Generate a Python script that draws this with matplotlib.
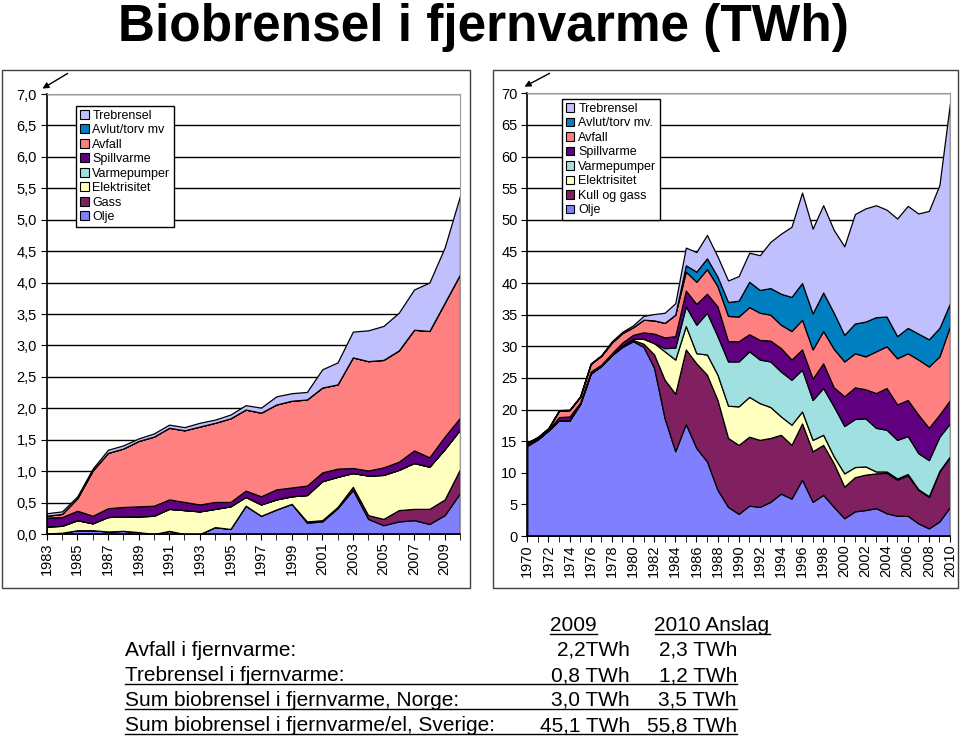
import matplotlib
matplotlib.use("Agg")
import matplotlib.pyplot as plt
from matplotlib.patches import Patch, Rectangle, FancyArrowPatch
from matplotlib.lines import Line2D

plt.rcParams['font.family'] = ['Liberation Sans', 'DejaVu Sans']

# ---- Norway (left panel), 1983-2010, TWh
years_no = list(range(1983, 2011))
olje_no = [0.01, 0.02, 0.06, 0.06, 0.04, 0.05, 0.03, 0.00, 0.05, 0.00, 0.00, 0.11, 0.08, 0.45,
           0.29, 0.39, 0.48, 0.18, 0.20, 0.41, 0.70, 0.24, 0.14, 0.20, 0.22, 0.16, 0.30, 0.65]
gass_no = [0, 0, 0, 0, 0, 0, 0, 0, 0, 0, 0, 0, 0, 0,
           0, 0, 0, 0.02, 0.02, 0.02, 0.05, 0.06, 0.10, 0.18, 0.18, 0.24, 0.25, 0.38]
el_no = [0.11, 0.11, 0.16, 0.11, 0.23, 0.23, 0.25, 0.29, 0.35, 0.38, 0.36, 0.29, 0.36, 0.14,
         0.18, 0.16, 0.12, 0.42, 0.62, 0.48, 0.22, 0.63, 0.70, 0.64, 0.73, 0.67, 0.80, 0.63]
vp_no = [0] * 28
spill_no = [0.14, 0.14, 0.15, 0.12, 0.14, 0.15, 0.16, 0.16, 0.15, 0.13, 0.11, 0.11, 0.07, 0.10,
            0.13, 0.16, 0.14, 0.15, 0.14, 0.13, 0.08, 0.08, 0.12, 0.13, 0.20, 0.15, 0.20, 0.19]
avfall_no = [0.03, 0.05, 0.20, 0.72, 0.88, 0.93, 1.04, 1.10, 1.14, 1.14, 1.24, 1.26, 1.33, 1.29,
             1.33, 1.35, 1.38, 1.37, 1.35, 1.34, 1.76, 1.74, 1.71, 1.77, 1.92, 2.01, 2.13, 2.28]
avlut_no = [0] * 28
tre_no = [0.04, 0.04, 0.03, 0.03, 0.05, 0.05, 0.04, 0.05, 0.05, 0.05, 0.06, 0.05, 0.06, 0.07,
          0.08, 0.13, 0.12, 0.12, 0.29, 0.35, 0.41, 0.49, 0.54, 0.60, 0.64, 0.77, 0.88, 1.25]

# ---- Sweden (right panel), 1970-2010, TWh
years_se = list(range(1970, 2011))
olje_se = [14.3, 15.3, 16.7, 18.3, 18.3, 20.9, 25.7, 26.9, 28.6, 29.9,
           30.8, 29.9, 26.6, 18.6, 13.4, 17.7, 13.9, 11.8, 7.3, 4.6,
           3.5, 4.8, 4.6, 5.4, 6.7, 5.9, 8.9, 5.4, 6.5, 4.6,
           2.8, 3.9, 4.1, 4.4, 3.6, 3.2, 3.2, 2.0, 1.2, 2.3, 4.6]
kull_se = [0, 0, 0, 0, 0, 0, 0, 0, 0, 0.1,
           0.2, 0.5, 2.1, 6.1, 9.1, 11.8, 13.4, 13.7, 14.2, 10.9,
           10.9, 10.9, 10.6, 10.1, 9.3, 8.5, 8.9, 8.0, 7.9, 6.9,
           5.0, 5.4, 5.6, 5.5, 6.4, 5.7, 6.4, 5.3, 5.0, 7.9, 7.9]
el_se = [0, 0, 0, 0, 0, 0, 0, 0, 0, 0.1,
         0.2, 0.8, 1.8, 4.5, 5.4, 3.7, 1.6, 3.2, 4.0, 5.1,
         6.1, 6.3, 5.8, 4.9, 2.9, 3.2, 1.9, 1.8, 1.6, 1.1,
         2.1, 1.6, 1.3, 0.3, 0.2, 0.2, 0.2, 0.1, 0.1, 0.1, 0.1]
vp_se = [0, 0, 0, 0, 0, 0, 0, 0, 0, 0,
         0, 0, 0, 0.5, 1.9, 3.1, 4.5, 6.6, 6.1, 7.0,
         7.1, 7.2, 6.9, 7.2, 7.1, 7.1, 6.6, 6.3, 7.4, 7.9,
         7.5, 7.6, 7.6, 6.9, 6.6, 6.1, 6.0, 5.7, 5.7, 5.4, 5.2]
spill_se = [0.1, 0.1, 0.1, 0.5, 0.6, 0.2, 0.3, 0.2, 0.3, 0.5,
            0.6, 1.0, 1.5, 1.7, 1.8, 2.5, 3.3, 3.0, 4.7, 3.2,
            3.2, 2.7, 3.1, 3.3, 3.7, 3.2, 3.2, 3.4, 3.9, 3.0,
            4.7, 5.0, 4.6, 5.5, 6.6, 5.6, 5.7, 6.1, 5.1, 3.5, 3.7]
avfall_se = [0.3, 0.2, 0.2, 1.0, 1.0, 0.9, 1.2, 1.4, 1.7, 1.5,
             1.2, 2.0, 2.1, 2.3, 3.4, 3.0, 3.5, 3.9, 3.2, 4.0,
             3.9, 4.3, 4.3, 4.1, 3.7, 4.5, 4.7, 4.6, 5.1, 6.1,
             5.5, 5.4, 5.2, 6.6, 6.6, 7.3, 7.4, 8.7, 9.7, 9.2, 11.7]
avlut_se = [0, 0, 0, 0, 0, 0, 0, 0, 0, 0,
            0, 0, 0, 0, 0, 1.0, 1.6, 1.7, 1.5, 2.2,
            2.5, 4.0, 3.6, 4.2, 4.9, 5.4, 5.8, 5.7, 6.1, 5.7,
            4.2, 4.7, 5.5, 5.4, 4.7, 3.5, 4.0, 4.1, 4.3, 4.5, 3.6]
tre_se = [0.1, 0.1, 0.1, 0.1, 0.1, 0.1, 0.1, 0.1, 0.2, 0.2,
          0.3, 0.6, 1.0, 1.6, 1.8, 2.8, 3.1, 3.7, 3.2, 3.4,
          3.9, 4.6, 5.5, 7.3, 9.5, 11.1, 14.3, 13.4, 13.8, 13.1,
          14.0, 17.3, 17.9, 17.7, 16.9, 18.6, 19.3, 19.0, 20.3, 22.6, 31.7]

labels_no = ["Olje", "Gass", "Elektrisitet", "Varmepumper", "Spillvarme", "Avfall",
             "Avlut/torv mv", "Trebrensel"]
labels_se = ["Olje", "Kull og gass", "Elektrisitet", "Varmepumper", "Spillvarme", "Avfall",
             "Avlut/torv mv.", "Trebrensel"]
colors = ["#8080FF", "#802060", "#FFFFC0", "#A0E0E0", "#600080", "#FF8080", "#0080C0", "#C0C0FF"]

yticks_no = [0, 0.5, 1, 1.5, 2, 2.5, 3, 3.5, 4, 4.5, 5, 5.5, 6, 6.5, 7]
ytick_labels_no = ["0,0", "0,5", "1,0", "1,5", "2,0", "2,5", "3,0", "3,5", "4,0", "4,5",
                   "5,0", "5,5", "6,0", "6,5", "7,0"]
yticks_se = [0, 5, 10, 15, 20, 25, 30, 35, 40, 45, 50, 55, 60, 65, 70]

# table under the charts
table_head = ["2009", "2010 Anslag"]
table_rows = ["Avfall i fjernvarme:", "Trebrensel i fjernvarme:",
              "Sum biobrensel i fjernvarme, Norge:", "Sum biobrensel i fjernvarme/el, Sverige:"]
table_2009 = ["2,2TWh", "0,8 TWh", "3,0 TWh", "45,1 TWh"]
table_2010 = ["2,3 TWh", "1,2 TWh", "3,5 TWh", "55,8 TWh"]
table_underlined = [False, True, True, True]

W, H = 960, 736
fig = plt.figure(figsize=(W / 100, H / 100), dpi=100)


def px(x0, y0, x1, y1):
    # pixel box -> figure rect
    return [x0 / W, 1 - y1 / H, (x1 - x0) / W, (y1 - y0) / H]


def style_axes(ax):
    ax.set_axisbelow(True)
    ax.yaxis.grid(True, color="black", linewidth=1)
    for s in ["top", "right"]:
        ax.spines[s].set_color("#9a9a9a")
    for s in ["left", "bottom"]:
        ax.spines[s].set_color("black")
        ax.spines[s].set_linewidth(1.2)
    ax.tick_params(axis="y", length=4, labelsize=10.5, pad=3)
    ax.tick_params(axis="x", which="both", length=4, labelsize=10.5, rotation=90, pad=2)


def legend(ax, labels, anchor):
    handles = [Patch(facecolor=c, edgecolor="black", linewidth=0.8) for c in colors]
    leg = ax.legend(handles[::-1], labels[::-1], loc="upper left", bbox_to_anchor=anchor,
                    fontsize=9, frameon=True, fancybox=False, framealpha=1,
                    edgecolor="black", handlelength=0.7, handleheight=0.7,
                    handletextpad=0.3, labelspacing=0.2, borderpad=0.3, borderaxespad=0)
    leg.get_frame().set_linewidth(1)


# ---- left chart
ax1 = fig.add_axes(px(46.7, 94, 460, 534))
ax1.stackplot(years_no, olje_no, gass_no, el_no, vp_no, spill_no, avfall_no, avlut_no, tre_no,
              colors=colors, edgecolor="black", linewidth=0.9)
ax1.set_xlim(1983, 2010)
ax1.set_ylim(0, 7)
ax1.set_yticks(yticks_no)
ax1.set_yticklabels(ytick_labels_no)
ax1.set_xticks(years_no[::2])
ax1.set_xticks(years_no, minor=True)
style_axes(ax1)
legend(ax1, labels_no, (0.071, 0.973))

# ---- right chart
ax2 = fig.add_axes(px(527.3, 93.3, 950, 536))
ax2.stackplot(years_se, olje_se, kull_se, el_se, vp_se, spill_se, avfall_se, avlut_se, tre_se,
              colors=colors, edgecolor="black", linewidth=0.9)
ax2.set_xlim(1970, 2010)
ax2.set_ylim(0, 70)
ax2.set_yticks(yticks_se)
ax2.set_xticks(years_se[::2])
ax2.set_xticks(years_se, minor=True)
style_axes(ax2)
legend(ax2, labels_se, (0.082, 0.987))

# panel frames and the small arrows
for x0, x1 in [(2, 470), (493, 958)]:
    fig.patches.append(Rectangle((x0 / W, 1 - 588 / H), (x1 - x0) / W, (588 - 70) / H,
                                 transform=fig.transFigure, fill=False,
                                 edgecolor="#404040", linewidth=1))
for (xa, ya), (xb, yb) in [((70, 72), (40, 90)), ((552, 72), (522, 88))]:
    fig.patches.append(FancyArrowPatch((xa / W, 1 - ya / H), (xb / W, 1 - yb / H),
                                       transform=fig.transFigure, arrowstyle="-|>",
                                       mutation_scale=9, color="black", linewidth=1))

fig.text(483 / W, 1 - 27 / H, "Biobrensel i fjernvarme (TWh)", ha="center", va="center",
         fontsize=37, fontweight="bold")

# ---- table
fs = 15
fig.text(573 / W, 1 - 631 / H, table_head[0], ha="center", va="baseline", fontsize=fs)
fig.text(712 / W, 1 - 631 / H, table_head[1], ha="center", va="baseline", fontsize=fs)
fig.add_artist(Line2D([550 / W, 597 / W], [1 - 634 / H] * 2, color="black", linewidth=1))
fig.add_artist(Line2D([655 / W, 770 / W], [1 - 634 / H] * 2, color="black", linewidth=1))
for i, row in enumerate(table_rows):
    yb = 656 + i * 25
    fig.text(125 / W, 1 - yb / H, row, ha="left", va="baseline", fontsize=fs)
    fig.text(630 / W, 1 - yb / H, table_2009[i], ha="right", va="baseline", fontsize=fs)
    fig.text(737 / W, 1 - yb / H, table_2010[i], ha="right", va="baseline", fontsize=fs)
    if table_underlined[i]:
        fig.add_artist(Line2D([125 / W, 737 / W], [1 - (yb + 3) / H] * 2,
                              color="black", linewidth=1))

fig.savefig("out.png", dpi=100)
